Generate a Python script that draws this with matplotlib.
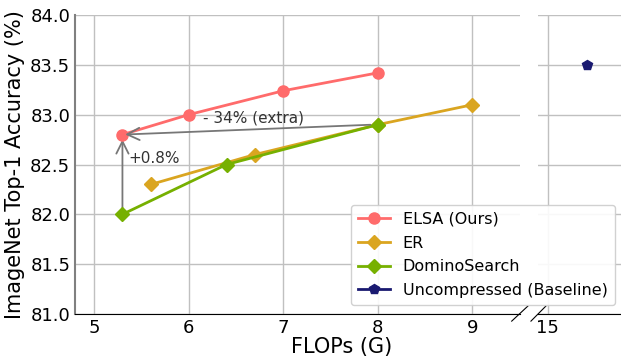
import matplotlib
matplotlib.use('Agg')
import matplotlib.pyplot as plt

# data
elsa_x = [5.3, 6.0, 7.0, 8.0]
elsa_y = [82.8, 83.0, 83.24, 83.42]
er_x = [5.6, 6.7, 8.0, 9.0]
er_y = [82.3, 82.6, 82.9, 83.1]
domino_x = [5.3, 6.4, 8.0]
domino_y = [82.0, 82.5, 82.9]
base_x = [15.4]
base_y = [83.5]

c_elsa = '#ff6b6b'
c_er = '#daa520'
c_domino = '#76b000'
c_base = '#191970'

fig = plt.figure(figsize=(6.21, 3.58), dpi=100)
ax1 = fig.add_axes([0.121, 0.123, 0.716, 0.835])
ax2 = fig.add_axes([0.866, 0.123, 0.16, 0.835])

for ax in (ax1, ax2):
    ax.plot(elsa_x, elsa_y, '-o', color=c_elsa, lw=2, ms=8, label='ELSA (Ours)', zorder=4)
    ax.plot(er_x, er_y, '-D', color=c_er, lw=2, ms=7, label='ER', zorder=3)
    ax.plot(domino_x, domino_y, '-D', color=c_domino, lw=2, ms=7, label='DominoSearch', zorder=3)
    ax.plot(base_x, base_y, '-p', color=c_base, lw=2, ms=7, label='Uncompressed (Baseline)', zorder=3)
    ax.set_ylim(81.0, 84.0)
    ax.grid(True, color='#c0c0c0', lw=1)
    ax.set_axisbelow(True)
    ax.spines['top'].set_visible(False)
    ax.spines['right'].set_visible(False)
    ax.tick_params(labelsize=13, length=0)

ax1.set_xlim(4.8, 9.5)
ax1.set_xticks([5, 6, 7, 8, 9])
ax1.set_yticks([81.0, 81.5, 82.0, 82.5, 83.0, 83.5, 84.0])
ax1.spines['left'].set_color('#808080')
ax1.spines['left'].set_linewidth(1.5)

ax2.set_xlim(14.9, 15.9)
ax2.set_xticks([15])
ax2.spines['left'].set_visible(False)
ax2.tick_params(labelleft=False)

# break marks
kw = dict(transform=fig.transFigure, color='k', lw=0.8, clip_on=False)
fig.add_artist(plt.Line2D([0.824, 0.850], [0.103, 0.145], **kw))
fig.add_artist(plt.Line2D([0.855, 0.879], [0.103, 0.145], **kw))

# annotations
ax1.annotate('', xy=(5.3, 82.8), xytext=(7.95, 82.9),
             arrowprops=dict(arrowstyle='->', color='#777777', lw=1.3, mutation_scale=22), zorder=5)
ax1.annotate('', xy=(5.3, 82.78), xytext=(5.3, 82.0),
             arrowprops=dict(arrowstyle='->', color='#777777', lw=1.3, mutation_scale=22), zorder=2)
ax1.text(6.15, 82.97, '- 34% (extra)', fontsize=11, color='#333333', va='center')
ax1.text(5.36, 82.56, '+0.8%', fontsize=11, color='#333333', va='center')

ax1.set_ylabel('ImageNet Top-1 Accuracy (%)', fontsize=15)
fig.text(0.55, 0.003, 'FLOPs (G)', fontsize=15, ha='center', va='bottom')

h, l = ax1.get_legend_handles_labels()
fig.legend(h, l, loc='lower right', bbox_to_anchor=(1.003, 0.125), fontsize=11.5,
           handlelength=2, borderpad=0.45, labelspacing=0.55, framealpha=0.9)

fig.savefig('out.png', dpi=100)
